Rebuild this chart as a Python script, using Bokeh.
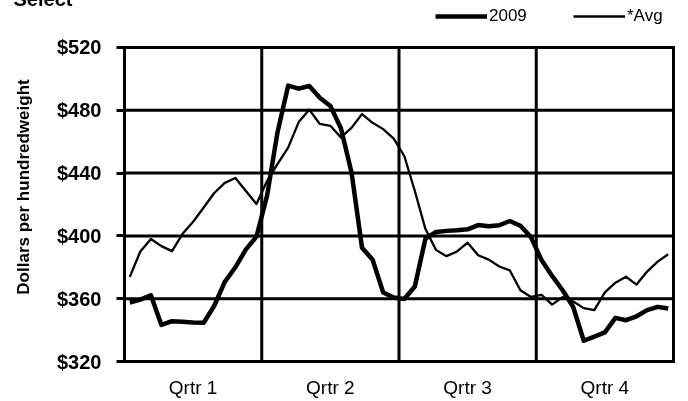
from bokeh.plotting import figure
from bokeh.models import Range1d, FixedTicker, Legend, LegendItem
from bokeh.embed import file_html
from bokeh.resources import INLINE

# ---- data ----
weeks = list(range(1, 53))
series_2009 = [357.6, 359.4, 362.2, 343.3, 345.7, 345.3, 344.9, 344.7, 355.5, 370.7,
               380.0, 391.4, 399.5, 425.5, 466.2, 495.7, 493.8, 495.5, 488.0, 482.7,
               468.6, 440.6, 392.4, 384.8, 364.0, 360.7, 359.8, 367.8, 398.2, 402.5,
               403.2, 403.6, 404.2, 406.9, 406.2, 406.8, 409.5, 406.5, 399.2, 384.6,
               374.5, 365.4, 354.7, 333.2, 335.9, 338.6, 347.8, 346.3, 348.8, 352.7,
               354.8, 353.7]
series_avg = [373.9, 390.1, 398.0, 393.5, 390.3, 401.3, 409.0, 418.1, 427.3, 433.8,
              436.9, 428.6, 420.3, 434.9, 445.9, 456.2, 472.5, 480.4, 471.3, 470.1,
              462.7, 468.8, 477.6, 472.0, 468.0, 462.0, 450.9, 428.6, 404.5, 391.1,
              387.1, 390.1, 395.7, 387.7, 384.9, 380.5, 378.0, 365.4, 361.1, 362.5,
              356.2, 361.0, 358.2, 354.0, 352.7, 364.0, 370.2, 374.0, 369.0, 377.3,
              383.6, 388.3]
quarter_labels = ["Qrtr 1", "Qrtr 2", "Qrtr 3", "Qrtr 4"]
quarter_bounds = [0, 13, 26, 39, 52]
quarter_centers = [6.5, 19.5, 32.5, 45.5]
y_ticks = [320, 360, 400, 440, 480, 520]
series_names = ["2009", "*Avg"]
title_text = "Select"
y_label_text = "Dollars per hundredweight"

x = [w - 0.5 for w in weeks]
FONT = "Liberation Sans"
SHIFT = 21  # canvas starts this many px above the window

p = figure(width=688, height=401 + SHIFT, output_backend="svg", toolbar_location=None,
           x_range=Range1d(-0.284, 52.284), y_range=Range1d(318.09, 544.2),
           min_border_left=121, min_border_right=12, min_border_top=30,
           min_border_bottom=37)
p.styles = {"position": "fixed", "top": "-%dpx" % SHIFT, "left": "0px"}
p.background_fill_color = "white"
p.border_fill_color = "white"
p.outline_line_color = None
p.grid.visible = False

# title (partly above the visible window, as in the reference)
p.title.text = title_text
p.title.align = "left"
p.title.offset = -108
p.title.standoff = 0
p.title.text_font = FONT
p.title.text_font_style = "bold"
p.title.text_font_size = "20px"
p.title.text_color = "black"

# frame lines (quarter dividers and dollar gridlines)
p.segment(x0=quarter_bounds, y0=[y_ticks[0]] * len(quarter_bounds),
          x1=quarter_bounds, y1=[y_ticks[-1]] * len(quarter_bounds),
          line_color="black", line_width=3, line_cap="square")
p.segment(x0=[quarter_bounds[0]] * len(y_ticks), y0=y_ticks,
          x1=[quarter_bounds[-1]] * len(y_ticks), y1=y_ticks,
          line_color="black", line_width=3, line_cap="square")

ya = p.yaxis[0]
ya.ticker = FixedTicker(ticks=y_ticks)
ya.bounds = (320, 539.1)
ya.major_label_overrides = {t: "$" + str(t) for t in y_ticks}
ya.major_label_text_font = FONT
ya.major_label_text_font_style = "bold"
ya.major_label_text_font_size = "20px"
ya.major_label_text_color = "black"
ya.major_label_standoff = 15
ya.axis_line_color = None
ya.major_tick_out = 5
ya.major_tick_in = 3
ya.major_tick_line_width = 3
ya.major_tick_line_color = "black"
ya.minor_tick_line_color = None
ya.axis_label = y_label_text
ya.axis_label_text_font = FONT
ya.axis_label_text_font_style = "bold"
ya.axis_label_text_font_size = "17px"
ya.axis_label_text_color = "black"
ya.axis_label_standoff = 21

xa = p.xaxis[0]
xa.ticker = FixedTicker(ticks=quarter_centers)
xa.major_label_overrides = {c: l for c, l in zip(quarter_centers, quarter_labels)}
xa.major_label_text_font = FONT
xa.major_label_text_font_size = "19px"
xa.major_label_text_color = "black"
xa.major_label_standoff = 6
xa.axis_line_color = None
xa.major_tick_line_color = None
xa.minor_tick_line_color = None

r1 = p.line(x, series_2009, line_width=4.5, line_color="black", line_join="round")
r2 = p.line(x, series_avg, line_width=2.3, line_color="black", line_join="round")

for r, name, lx in [(r1, series_names[0], 314), (r2, series_names[1], 452)]:
    leg = Legend(items=[LegendItem(label=name, renderers=[r])], location=(lx, 338),
                 orientation="horizontal", glyph_width=52, glyph_height=20,
                 label_height=20, label_standoff=2, padding=0, margin=0,
                 border_line_color=None, background_fill_alpha=0,
                 label_text_font=FONT, label_text_font_size="17px",
                 label_text_color="black")
    p.add_layout(leg, "center")

open("out.html", "w").write(file_html(p, INLINE))
